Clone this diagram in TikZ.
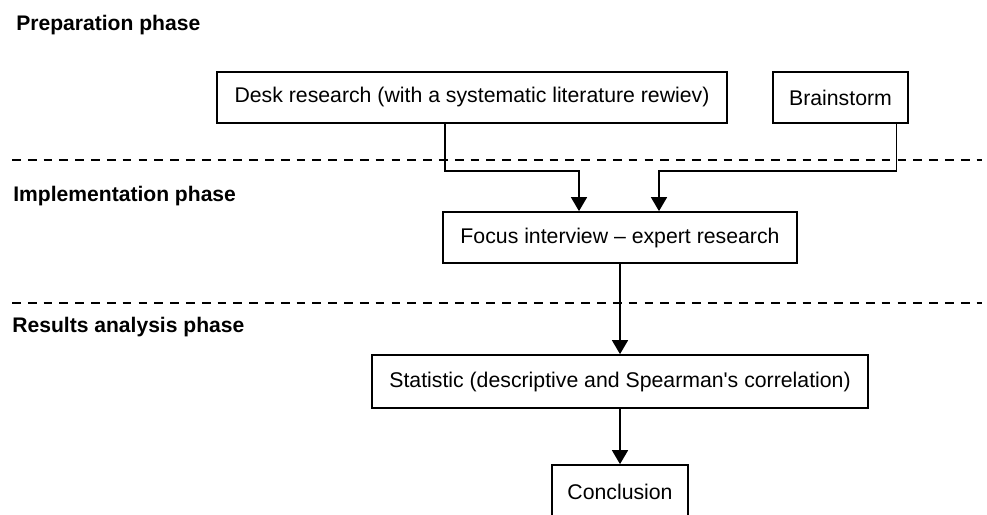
\documentclass[tikz,border=0pt]{standalone}
\usepackage{fontspec}
\setmainfont{Liberation Sans}
\usepackage{tikz}
\usepackage{xcolor}
\usetikzlibrary{calc}
\usetikzlibrary{arrows.meta}

\begin{document}
\begin{tikzpicture}[x=0.02cm, y=-0.02cm,
		phasebox/.style={draw=black, line width=1pt, inner sep=0pt, align=center, font=\fontsize{12.1pt}{14pt}\selectfont},
		phaselabel/.style={anchor=base west, inner sep=0pt, font=\fontsize{12pt}{14pt}\selectfont\bfseries},
		phaseline/.style={black, line width=0.9pt, dash pattern=on 5pt off 4pt},
		flow/.style={black, line width=0.9pt, -{Triangle[length=0.28cm, width=0.32cm]}}]
		\useasboundingbox (0,0) rectangle (987,514);
		\node[phaselabel] (prep) at (16,30) {Preparation phase};
		\node[phaselabel] (impl) at (13,201) {Implementation phase};
		\node[phaselabel] (res) at (12,332) {Results analysis phase};
		\draw[phaseline] (12,160) -- (982,160);
		\draw[phaseline] (12,303) -- (982,303);
		\node[phasebox, minimum width=10.2cm, minimum height=1.02cm] (desk) at (472,97.5) {Desk research (with a systematic literature rewiev)};
		\node[phasebox, minimum width=2.7cm, minimum height=1.02cm] (brain) at (840.5,97.5) {Brainstorm};
		\node[phasebox, minimum width=7.08cm, minimum height=1.02cm] (focus) at (620,237.5) {Focus interview -- expert research};
		\node[phasebox, minimum width=9.92cm, minimum height=1.06cm] (stat) at (620,381.5) {Statistic (descriptive and Spearman\textquotesingle s correlation)};
		\node[phasebox, minimum width=2.72cm, minimum height=1.06cm] (concl) at (620,491.5) {Conclusion};
		\draw[flow] ($(desk.south)+(-27,0)$) -- ++(0,47) -| ($(focus.north)+(-41,0)$);
		\draw[flow] ($(brain.south)+(56,0)$) -- ++(0,47) -| ($(focus.north)+(39,0)$);
		\draw[flow] (focus.south) -- (stat.north);
		\draw[flow] (stat.south) -- (concl.north);
	\end{tikzpicture}
\end{document}
